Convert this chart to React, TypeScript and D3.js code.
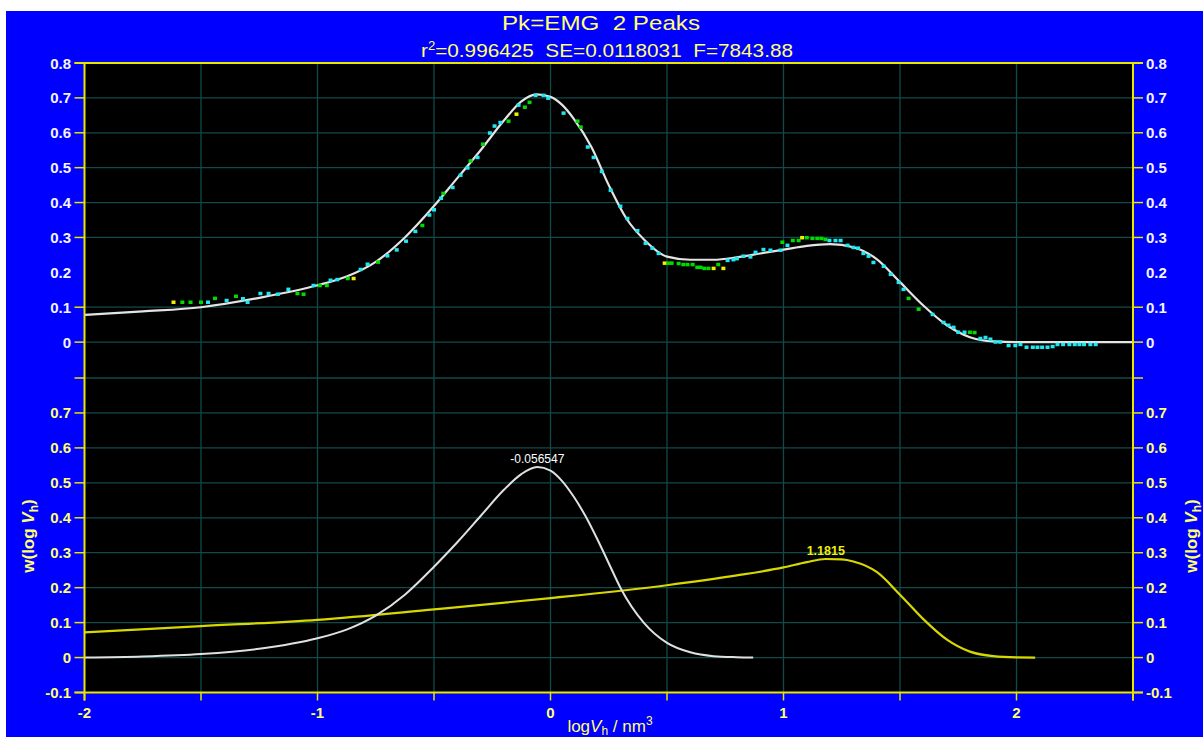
import React from "react";
import * as d3 from "d3";

// ---- data ----
const fitX = [-2, -1.75, -1.5, -1.25, -1, -0.875, -0.75, -0.625, -0.5, -0.4, -0.3, -0.2, -0.125, -0.06, 0, 0.05, 0.1, 0.175, 0.25, 0.325, 0.4, 0.5, 0.6, 0.7, 0.8, 0.9, 1.0, 1.1, 1.2, 1.3, 1.4, 1.5, 1.6, 1.7, 1.8, 1.9, 2.0, 2.5];
const fitY = [0.078, 0.088, 0.1, 0.127, 0.163, 0.188, 0.23, 0.3, 0.39, 0.47, 0.55, 0.635, 0.69, 0.71, 0.703, 0.68, 0.64, 0.56, 0.45, 0.355, 0.295, 0.245, 0.236, 0.236, 0.243, 0.254, 0.265, 0.276, 0.281, 0.272, 0.238, 0.172, 0.105, 0.049, 0.014, 0.002, 0, 0];

const peak1X = [-2, -1.75, -1.5, -1.25, -1, -0.875, -0.75, -0.625, -0.5, -0.4, -0.3, -0.2, -0.125, -0.057, 0, 0.05, 0.1, 0.15, 0.2, 0.25, 0.3, 0.4, 0.5, 0.6, 0.7, 0.8, 0.87];
const peak1Y = [0, 0.003, 0.01, 0.025, 0.055, 0.08, 0.12, 0.18, 0.26, 0.33, 0.405, 0.48, 0.525, 0.545, 0.535, 0.505, 0.46, 0.405, 0.34, 0.27, 0.2, 0.1, 0.042, 0.015, 0.004, 0.001, 0];

const peak2X = [-2, -1.5, -1, -0.5, 0, 0.5, 0.8, 1.0, 1.1, 1.18, 1.25, 1.3, 1.4, 1.5, 1.6, 1.7, 1.8, 1.9, 2.0, 2.08];
const peak2Y = [0.072, 0.09, 0.108, 0.138, 0.17, 0.207, 0.235, 0.258, 0.273, 0.282, 0.281, 0.275, 0.245, 0.18, 0.11, 0.052, 0.017, 0.004, 0.0005, 0];

const ptX = [-1.618, -1.58, -1.545, -1.5, -1.47, -1.44, -1.39, -1.35, -1.32, -1.3, -1.245, -1.21, -1.17, -1.125, -1.086, -1.06, -1.017, -0.99, -0.96, -0.944, -0.915, -0.87, -0.845, -0.815, -0.785, -0.74,
  -0.7, -0.66, -0.62, -0.58, -0.55, -0.52, -0.5,
  -0.47, -0.46, -0.42, -0.386, -0.356, -0.343, -0.313, -0.29, -0.26, -0.24, -0.215, -0.18, -0.146, -0.137, -0.11, -0.09, -0.064, -0.03, -0.01, 0.056, 0.116, 0.13, 0.16, 0.185, 0.22, 0.258, 0.3, 0.33,
  0.373, 0.408, 0.437, 0.464, 0.49, 0.506, 0.52, 0.55, 0.57, 0.588, 0.61, 0.63, 0.644, 0.66, 0.678, 0.7, 0.72, 0.742, 0.76, 0.785, 0.8, 0.828, 0.858, 0.88, 0.914, 0.944, 0.987, 0.995, 1.017, 1.04, 1.065, 1.08, 1.1, 1.124, 1.145, 1.163, 1.18, 1.197, 1.223, 1.245, 1.275, 1.3, 1.32, 1.343, 1.365, 1.386, 1.43, 1.46, 1.494, 1.515, 1.537, 1.58, 1.64, 1.687, 1.708, 1.73, 1.75, 1.777, 1.8, 1.82, 1.845, 1.867, 1.888, 1.91, 1.93, 1.966, 1.995, 2.017, 2.043, 2.07, 2.09, 2.11, 2.133, 2.155, 2.176, 2.2, 2.227, 2.25, 2.27, 2.29, 2.317, 2.34];
const ptY = [0.115, 0.115, 0.115, 0.115, 0.115, 0.126, 0.12, 0.132, 0.125, 0.115, 0.14, 0.14, 0.138, 0.152, 0.14, 0.138, 0.163, 0.163, 0.163, 0.178, 0.18, 0.183, 0.183, 0.209, 0.224, 0.23,
  0.248, 0.265, 0.29, 0.318, 0.335, 0.365, 0.38,
  0.413, 0.427, 0.444, 0.479, 0.5, 0.52, 0.53, 0.568, 0.6, 0.62, 0.63, 0.634, 0.654, 0.68, 0.674, 0.688, 0.708, 0.708, 0.7, 0.657, 0.634, 0.617, 0.56, 0.53, 0.49, 0.436, 0.39, 0.355,
  0.32, 0.284, 0.27, 0.255, 0.227, 0.227, 0.227, 0.226, 0.223, 0.223, 0.223, 0.215, 0.215, 0.212, 0.212, 0.212, 0.223, 0.212, 0.235, 0.237, 0.24, 0.247, 0.245, 0.258, 0.266, 0.264, 0.264, 0.287, 0.278, 0.292, 0.292, 0.3, 0.3, 0.298, 0.298, 0.298, 0.295, 0.292, 0.292, 0.292, 0.278, 0.272, 0.27, 0.255, 0.247, 0.229, 0.218, 0.195, 0.172, 0.152, 0.126, 0.095, 0.08, 0.057, 0.049, 0.043, 0.029, 0.029, 0.029, 0.028, 0.011, 0.014, 0.009, 0.001, 0.001, -0.009, -0.009, -0.006, -0.014, -0.014, -0.014, -0.014, -0.014, -0.012, -0.006, -0.006, -0.006, -0.006, -0.006, -0.006, -0.006, -0.006];
const ptC = ["y", "g", "g", "g", "c", "g", "c", "g", "c", "c", "c", "c", "c", "c", "g", "g", "c", "g", "g", "c", "c", "g", "y", "c", "c", "g",
  "c", "c", "c", "c", "g", "c", "c",
  "c", "g", "c", "c", "c", "g", "c", "g", "c", "c", "c", "g", "y", "c", "g", "g", "c", "c", "c", "c", "g", "g", "c", "c", "c", "c", "c", "c",
  "c", "c", "c", "c", "y", "g", "g", "g", "g", "g", "g", "g", "g", "g", "g", "y", "g", "y", "c", "c", "c", "c", "c", "c", "c", "c", "c", "g", "c", "g", "g", "y", "g", "g", "g", "g", "g", "c", "c", "c", "c", "c", "c", "c", "c", "c", "c", "c", "c", "c", "g", "g", "c", "c", "c", "c", "c", "c", "g", "g", "c", "c", "c", "c", "c", "c", "c", "c", "c", "c", "c", "c", "c", "c", "c", "c", "c", "c", "c", "c", "c", "c"];

const xTicks = [-2, -1, 0, 1, 2];
const xMinorTicks = [-2, -1.5, -1, -0.5, 0, 0.5, 1, 1.5, 2, 2.5];
const upperTicks = [0, 0.1, 0.3, 0.4, 0.5, 0.6, 0.7, 0.8];
const upperLabels = [0, 0.1, 0.2, 0.3, 0.4, 0.5, 0.6, 0.7, 0.8];
const lowerTicks = [-0.1, 0, 0.1, 0.2, 0.3, 0.4, 0.5, 0.6, 0.7, 0.8];
const lowerLabels = [-0.1, 0, 0.1, 0.2, 0.3, 0.4, 0.5, 0.6, 0.7];
const peakLabels = [{ x: -0.056547, y: 0.545, text: "-0.056547" }, { x: 1.1815, y: 0.282, text: "1.1815" }];

const title1 = "Pk=EMG  2 Peaks";
const title2 = "=0.996425  SE=0.0118031  F=7843.88";

const W = 1203, H = 737;
const L = 84.5, R = 1133, T = 63, MID = 378, B = 692.5;
const FONT = "'Liberation Sans', Arial, sans-serif";
const YEL = "#e6e600";
const GRID = "#124a4a";
const TXTY = "#ffff70";
const ptColor: Record<string, string> = { c: "#20e8f0", g: "#00dc00", y: "#f0f000" };

export default function App() {
  const x = d3.scaleLinear().domain([-2, 2.5]).range([L, R]);
  const yU = d3.scaleLinear().domain([-0.1, 0.8]).range([MID - 1, T]);
  const yL = d3.scaleLinear().domain([-0.1, 0.8]).range([B, MID]);
  const fmt = (v: number) => (v === 0 ? "0" : d3.format(".1f")(v).replace("−", "-"));

  const mkLine = (ys: d3.ScaleLinear<number, number>) =>
    d3.line<[number, number]>().x((d) => x(d[0])).y((d) => ys(d[1])).curve(d3.curveMonotoneX);

  const fitPath = mkLine(yU)(fitX.map((v, i) => [v, fitY[i]] as [number, number])) || "";
  const p1Path = mkLine(yL)(peak1X.map((v, i) => [v, peak1Y[i]] as [number, number])) || "";
  const p2Path = mkLine(yL)(peak2X.map((v, i) => [v, peak2Y[i]] as [number, number])) || "";

  return (
    <svg width={W} height={H} style={{ position: "absolute", left: 0, top: 0, background: "#fff" }} fontFamily={FONT}>
      <rect x={6} y={11} width={W - 6} height={H - 11} fill="#0000ff" />
      <rect x={L} y={T} width={R - L} height={B - T} fill="#000" />

      {/* grid */}
      {xMinorTicks.filter((t) => t > -2 && t < 2.5).map((t) => (
        <line key={"vg" + t} x1={x(t)} x2={x(t)} y1={T} y2={B} stroke={GRID} strokeWidth={1.3} />
      ))}
      {upperTicks.filter((t) => t < 0.8).map((t) => (
        <line key={"ug" + t} x1={L} x2={R} y1={yU(t)} y2={yU(t)} stroke={GRID} strokeWidth={1.3} />
      ))}
      {lowerTicks.filter((t) => t > -0.1).map((t) => (
        <line key={"lg" + t} x1={L} x2={R} y1={yL(t)} y2={yL(t)} stroke={GRID} strokeWidth={1.3} />
      ))}

      {/* upper curve + points */}
      <path d={fitPath} fill="none" stroke="#e4e4e4" strokeWidth={2.2} />
      {ptX.map((v, i) => (
        <rect key={"p" + i} x={x(v) - 2} y={yU(ptY[i]) - 1.5} width={4} height={3.5} fill={ptColor[ptC[i]]} />
      ))}

      {/* lower curves */}
      <path d={p2Path} fill="none" stroke="#d8d800" strokeWidth={2.2} />
      <path d={p1Path} fill="none" stroke="#e0e0e0" strokeWidth={2} />
      <text x={x(peakLabels[0].x)} y={yL(peakLabels[0].y) - 4} textAnchor="middle" fontSize={12} fill="#ffffff">{peakLabels[0].text}</text>
      <text x={x(peakLabels[1].x)} y={yL(peakLabels[1].y) - 4} textAnchor="middle" fontSize={12.5} fontWeight="bold" fill="#f0f000">{peakLabels[1].text}</text>

      {/* axes frame */}
      <line x1={L} x2={L} y1={T} y2={B + 8} stroke={YEL} strokeWidth={2} />
      <line x1={R} x2={R} y1={T} y2={B + 8} stroke={YEL} strokeWidth={2} />
      <line x1={L - 10} x2={R + 10} y1={T} y2={T} stroke={YEL} strokeWidth={2} />
      <line x1={L - 10} x2={R + 10} y1={B} y2={B} stroke={YEL} strokeWidth={2} />

      {/* y ticks */}
      {upperTicks.map((t) => (
        <g key={"ut" + t}>
          <line x1={L - 10} x2={L} y1={yU(t)} y2={yU(t)} stroke={YEL} strokeWidth={1.5} />
          <line x1={R} x2={R + 10} y1={yU(t)} y2={yU(t)} stroke={YEL} strokeWidth={1.5} />
        </g>
      ))}
      {lowerTicks.map((t) => (
        <g key={"lt" + t}>
          <line x1={L - 10} x2={L} y1={yL(t)} y2={yL(t)} stroke={YEL} strokeWidth={1.5} />
          <line x1={R} x2={R + 10} y1={yL(t)} y2={yL(t)} stroke={YEL} strokeWidth={1.5} />
        </g>
      ))}
      {upperLabels.map((t) => (
        <g key={"ul" + t} fontSize={15} fontWeight="bold" fill="#f4f4ff">
          <text x={71} y={yU(t) + 5.5} textAnchor="end">{fmt(t)}</text>
          <text x={1146} y={yU(t) + 5.5} textAnchor="start">{fmt(t)}</text>
        </g>
      ))}
      {lowerLabels.map((t) => (
        <g key={"ll" + t} fontSize={15} fontWeight="bold" fill={TXTY}>
          <text x={71} y={yL(t) + 5.5} textAnchor="end">{fmt(t)}</text>
          <text x={1146} y={yL(t) + 5.5} textAnchor="start">{fmt(t)}</text>
        </g>
      ))}

      {/* x ticks */}
      {xMinorTicks.map((t) => (
        <line key={"xt" + t} x1={x(t)} x2={x(t)} y1={B} y2={B + 8} stroke={YEL} strokeWidth={1.5} />
      ))}
      {xTicks.map((t) => (
        <text key={"xl" + t} x={x(t)} y={718} textAnchor="middle" fontSize={15} fontWeight="bold" fill={TXTY}>{t}</text>
      ))}

      {/* titles */}
      <text x={601} y={30} textAnchor="middle" fontSize={21} fill={TXTY} style={{ whiteSpace: "pre" }} textLength={198} lengthAdjust="spacingAndGlyphs">{title1}</text>
      <text x={607} y={57} textAnchor="middle" fontSize={19} fill={TXTY} style={{ whiteSpace: "pre" }} textLength={372} lengthAdjust="spacingAndGlyphs">
        r<tspan dy={-7} fontSize={12}>2</tspan><tspan dy={7}>{title2}</tspan>
      </text>

      {/* axis titles */}
      <text x={610} y={732} textAnchor="middle" fontSize={17} fill={TXTY}>
        log<tspan fontStyle="italic">V</tspan><tspan dy={3} fontSize={12}>h</tspan><tspan dy={-3}> / nm</tspan><tspan dy={-7} fontSize={12}>3</tspan>
      </text>
      {[34, 1197].map((cx) => (
        <text key={"yt" + cx} transform={`translate(${cx},536) rotate(-90)`} textAnchor="middle" fontSize={17} fontWeight="bold" fill={TXTY}>
          w(log <tspan fontStyle="italic">V</tspan><tspan dy={4} fontSize={12}>h</tspan><tspan dy={-4}>)</tspan>
        </text>
      ))}
    </svg>
  );
}
